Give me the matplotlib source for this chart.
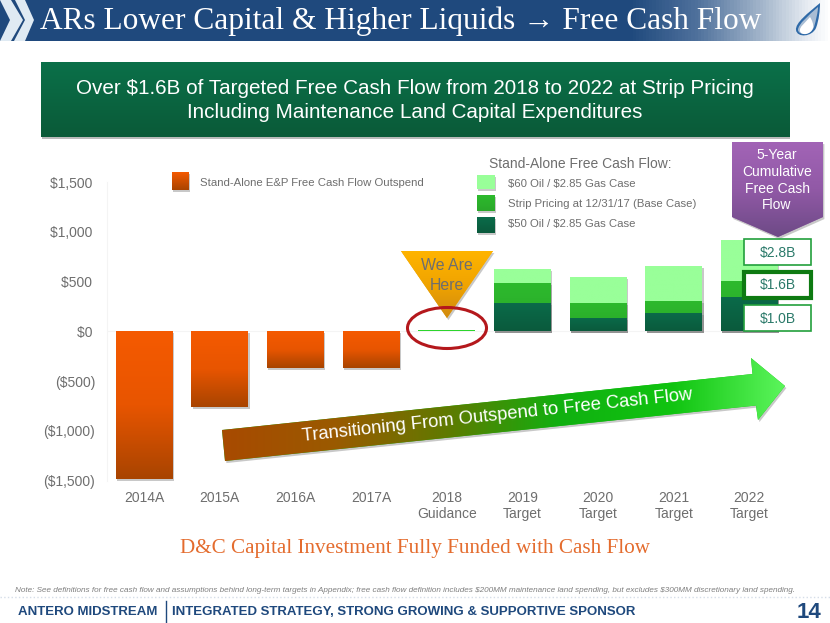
"""
plot.py

Rebuild the free cash flow slide: stand-alone outspend bars for 2014A-2017A,
stacked price cases for 2018-2022, and the slide furniture around them.

Usage:

    python plot.py
"""

import numpy as np
import matplotlib.pyplot as plt
import matplotlib.patheffects as pe
from matplotlib.colors import LinearSegmentedColormap
from matplotlib.patches import Ellipse, PathPatch, Polygon, Rectangle
from matplotlib.path import Path


WIDTH = 830
HEIGHT = 623

SANS = "Liberation Sans"
SERIF = "Liberation Serif"
GREY = "#6e6e6e"
NAVY = "#1f497d"

LABELS = ["2014A", "2015A", "2016A", "2017A", "2018\nGuidance", "2019\nTarget",
          "2020\nTarget", "2021\nTarget", "2022\nTarget"]
OUTSPEND = [-1480, -757, -368, -370]

# cumulative height of each case, 2019-2022
OIL_50 = [285, 137, 188, 347]
STRIP = [490, 285, 305, 508]
OIL_60 = [625, 545, 655, 915]
GUIDANCE_2018 = 15


def gradient_fill(patch, extent, colors, horizontal=False, zorder=2):
    cmap = LinearSegmentedColormap.from_list("fill", colors)
    ramp = np.linspace(0, 1, 256).reshape(-1, 1)
    if horizontal:
        ramp = ramp.T
    im = plt.imshow(ramp, cmap=cmap, extent=extent, aspect="auto", zorder=zorder)
    im.set_clip_path(patch)
    return im


def shadow(alpha=0.4):
    return [pe.SimplePatchShadow(offset=(1, -1.5), shadow_rgbFace="#777777", alpha=alpha), pe.Normal()]


def gradient_bars(x, bottoms, heights, colors, zorder=2):
    bars = plt.bar(x, heights, width=0.75, bottom=bottoms, color=colors[0], zorder=zorder)
    for bar in bars:
        x0, x1 = bar.get_x(), bar.get_x() + bar.get_width()
        y0, y1 = sorted([bar.get_y(), bar.get_y() + bar.get_height()])
        bar.set_path_effects(shadow())
        gradient_fill(bar, (x0, x1, y0, y1), colors, zorder=zorder + 0.1)


def draw_chart():
    plt.axes([107 / WIDTH, (HEIGHT - 480.7) / HEIGHT, 681 / WIDTH, 298.7 / HEIGHT])
    plt.xlim(-0.49, 8.51)
    plt.ylim(-1500, 1500)

    gradient_bars(range(4), 0, OUTSPEND, ["#f55a00", "#e85500", "#a84400"])

    x = range(5, 9)
    gradient_bars(x, 0, OIL_60, ["#99ff99", "#99ff99"], zorder=2)
    gradient_bars(x, 0, STRIP, ["#2dba2d", "#2aa82a"], zorder=3)
    gradient_bars(x, 0, OIL_50, ["#0b6b4a", "#0a5a3c"], zorder=4)
    plt.bar(4, GUIDANCE_2018, width=0.75, color="#2dd52d", zorder=3)

    plt.yticks([1500, 1000, 500, 0, -500, -1000, -1500],
               ["$1,500\u2009", "$1,000\u2009", "$500\u2009", "$0\u2009", "($500)", "($1,000)", "($1,500)"],
               fontsize=10, color=GREY, family=SANS)
    plt.xticks(range(9), LABELS, fontsize=10, color=GREY, family=SANS, linespacing=1.15)
    plt.tick_params(axis="both", length=0)
    plt.tick_params(axis="y", pad=8.5)
    plt.tick_params(axis="x", pad=7.5)

    ax = plt.gca()
    for side in ["top", "right", "bottom"]:
        ax.spines[side].set_visible(False)
    ax.spines["left"].set_color("#f4f4f4")
    plt.axhline(0, color="#f4f4f4", lw=0.8, zorder=1)


def draw_header():
    band = Rectangle((0, 0), WIDTH, 41, fc="none", ec="none")
    plt.gca().add_patch(band)
    gradient_fill(band, (0, WIDTH, 41, 0),
                  [(0, NAVY), (0.76, NAVY), (0.84, "#4f719c"), (0.92, "#a5b7cc"), (0.97, "#e3e9f0"), (1, "#ffffff")],
                  horizontal=True)

    plt.gca().add_patch(Polygon([(0, 0), (11, 0), (23, 20), (11, 41), (0, 41), (10, 20)],
                                fc="#dfeaf3", ec="none", zorder=3))
    plt.gca().add_patch(Polygon([(15, 0), (25, 0), (34, 20), (25, 41), (14, 41), (25, 20)],
                                fc="#dfeaf3", ec="none", zorder=3))

    plt.text(401, 21, "ARs Lower Capital & Higher Liquids \u2192 Free Cash Flow", color="white",
             family=SERIF, fontsize=22.6, ha="center", va="center", zorder=4)

    # flame logo
    codes = [Path.MOVETO] + [Path.CURVE4] * 9 + [Path.CLOSEPOLY]
    outer = [(820, 3), (808, 13), (795, 23), (796, 30), (797, 38), (812, 37), (816, 28),
             (819, 20), (820, 10), (820, 3), (820, 3)]
    plt.gca().add_patch(PathPatch(Path(outer, codes), fc="#2f6aa8", ec="none", zorder=4))
    middle = [(818, 7), (809, 15), (798, 24), (798, 30), (799, 36), (811, 35), (814, 27),
              (816, 20), (818, 12), (818, 7), (818, 7)]
    plt.gca().add_patch(PathPatch(Path(middle, codes), fc="#a9bdd4", ec="none", zorder=4))
    inner = [(810, 17), (805, 23), (799, 27), (800, 31), (801, 36), (811, 35), (813, 28),
             (814, 25), (812, 20), (810, 17), (810, 17)]
    plt.gca().add_patch(PathPatch(Path(inner, codes), fc="white", ec="none", zorder=4))


def draw_banner():
    box = Rectangle((41, 62), 748, 75, fc="#0b6b49", ec="none", zorder=2, path_effects=shadow(0.5))
    plt.gca().add_patch(box)
    gradient_fill(box, (41, 789, 137, 62), ["#0b7049", "#0a5a38"], zorder=2.1)
    plt.text(415, 88, "Over $1.6B of Targeted Free Cash Flow from 2018 to 2022 at Strip Pricing",
             color="white", family=SANS, fontsize=14.9, ha="center", va="center", zorder=3)
    plt.text(415, 113, "Including Maintenance Land Capital Expenditures",
             color="white", family=SANS, fontsize=14.9, ha="center", va="center", zorder=3)


def draw_legends():
    swatches = [
        (172, 172, 17, 18, ["#f55a00", "#a84400"]),
        (477, 175, 18, 14, ["#99ff99", "#99ff99"]),
        (477, 195, 18, 16, ["#2dba2d", "#2aa82a"]),
        (477, 217, 18, 16, ["#0b6b4a", "#0a5a3c"]),
    ]
    for x, y, w, h, colors in swatches:
        swatch = Rectangle((x, y), w, h, fc=colors[0], ec="none", zorder=2, path_effects=shadow())
        plt.gca().add_patch(swatch)
        gradient_fill(swatch, (x, x + w, y + h, y), colors, zorder=2.1)

    plt.text(200, 182.5, "Stand-Alone E&P Free Cash Flow Outspend", color=GREY, family=SANS, fontsize=8.2, va="center")
    plt.text(489, 164, "Stand-Alone Free Cash Flow:", color=GREY, family=SANS, fontsize=10, va="center")
    plt.text(508, 183.5, "\\$60 Oil / \\$2.85 Gas Case", color=GREY, family=SANS, fontsize=8.2, va="center")
    plt.text(508, 204, "Strip Pricing at 12/31/17 (Base Case)", color=GREY, family=SANS, fontsize=8.2, va="center")
    plt.text(508, 224, "\\$50 Oil / \\$2.85 Gas Case", color=GREY, family=SANS, fontsize=8.2, va="center")


def draw_callouts():
    # we are here marker
    triangle = Polygon([(401, 251), (493, 251), (447, 318)], fc="#ffb300", ec="none", zorder=3, path_effects=shadow())
    plt.gca().add_patch(triangle)
    gradient_fill(triangle, (401, 493, 318, 251), ["#ffb400", "#f0a400", "#d08a10"], zorder=3.1)
    plt.text(447, 266, "We Are", color=GREY, family=SANS, fontsize=11.4, ha="center", va="center", zorder=4)
    plt.text(447, 285, "Here", color=GREY, family=SANS, fontsize=11.4, ha="center", va="center", zorder=4)
    plt.gca().add_patch(Ellipse((447, 328), 79, 41, fc="none", ec="#b4181c", lw=2.2, zorder=4))

    # cumulative free cash flow
    pentagon = Polygon([(732, 142), (823, 142), (823, 217), (778, 237), (732, 217)],
                       fc="#9b5fae", ec="none", zorder=3, path_effects=shadow())
    plt.gca().add_patch(pentagon)
    gradient_fill(pentagon, (732, 823, 237, 142), ["#a264b6", "#9159a6", "#6d4a86"], zorder=3.1)
    for y, line in zip([155, 172, 189, 205], ["5-Year", "Cumulative", "Free Cash", "Flow"]):
        plt.text(777, y, line, color="white", family=SANS, fontsize=10, ha="center", va="center", zorder=4)

    boxes = [
        (239, "$2.8B", "#22a03c", 1.2),
        (272, "$1.6B", "#0e7a12", 3),
        (305, "$1.0B", "#22a03c", 1.2),
    ]
    for y, text, edge, lw in boxes:
        plt.gca().add_patch(Rectangle((744, y), 67, 26, fc="white", ec=edge, lw=lw, zorder=4))
        plt.text(777.5, y + 13.5, text, color="#2b7a6a", family=SANS, fontsize=10, ha="center", va="center", zorder=5)


def draw_arrow():
    points = [(222, 430), (752.5, 374), (751, 358), (785, 386), (758, 420), (756, 405.5), (225, 461)]
    arrow = Polygon(points, fc="#10bf10", ec="none", zorder=3, path_effects=shadow())
    plt.gca().add_patch(arrow)
    gradient_fill(arrow, (222, 785, 461, 358),
                  ["#a84a00", "#9a5a00", "#5f7a00", "#10b010", "#10c410", "#5cf55c"],
                  horizontal=True, zorder=3.1)
    plt.text(497, 416, "Transitioning From Outspend to Free Cash Flow", color="white", family=SANS,
             fontsize=13.2, rotation=6.1, rotation_mode="anchor", ha="center", va="center", zorder=4)


def draw_footer():
    plt.text(415, 548, "D&C Capital Investment Fully Funded with Cash Flow", color="#e46c2e",
             family=SERIF, fontsize=15.2, ha="center", va="center")
    plt.text(15, 590.5, "Note: See definitions for free cash flow and assumptions behind long-term targets in "
             "Appendix; free cash flow definition includes \\$200MM maintenance land spending, but excludes "
             "\\$300MM discretionary land spending.",
             color="#7f7f7f", family=SANS, style="italic", fontsize=5.87, va="center")
    plt.plot([0, WIDTH], [597, 597], color="#d5dde8", lw=1, ls=":")
    plt.text(18, 612, "ANTERO MIDSTREAM", color=NAVY, family=SANS, weight="bold", fontsize=9.5, va="center")
    plt.plot([166, 166], [601, 622], color=NAVY, lw=1)
    plt.text(172, 612, "INTEGRATED STRATEGY, STRONG GROWING & SUPPORTIVE SPONSOR", color=NAVY,
             family=SANS, weight="bold", fontsize=9.5, va="center")
    plt.text(821, 612, "14", color=NAVY, family=SANS, weight="bold", fontsize=16, ha="right", va="center")


def main():
    plt.figure(figsize=(WIDTH / 100, HEIGHT / 100))

    draw_chart()

    # slide furniture, in pixels of the slide
    plt.axes([0, 0, 1, 1], facecolor="none")
    plt.xlim(0, WIDTH)
    plt.ylim(HEIGHT, 0)
    plt.axis("off")

    draw_header()
    draw_banner()
    draw_legends()
    draw_callouts()
    draw_arrow()
    draw_footer()

    plt.savefig("out.png", dpi=100)
    plt.close()
    print("Saved out.png")


if __name__ == "__main__":
    main()
